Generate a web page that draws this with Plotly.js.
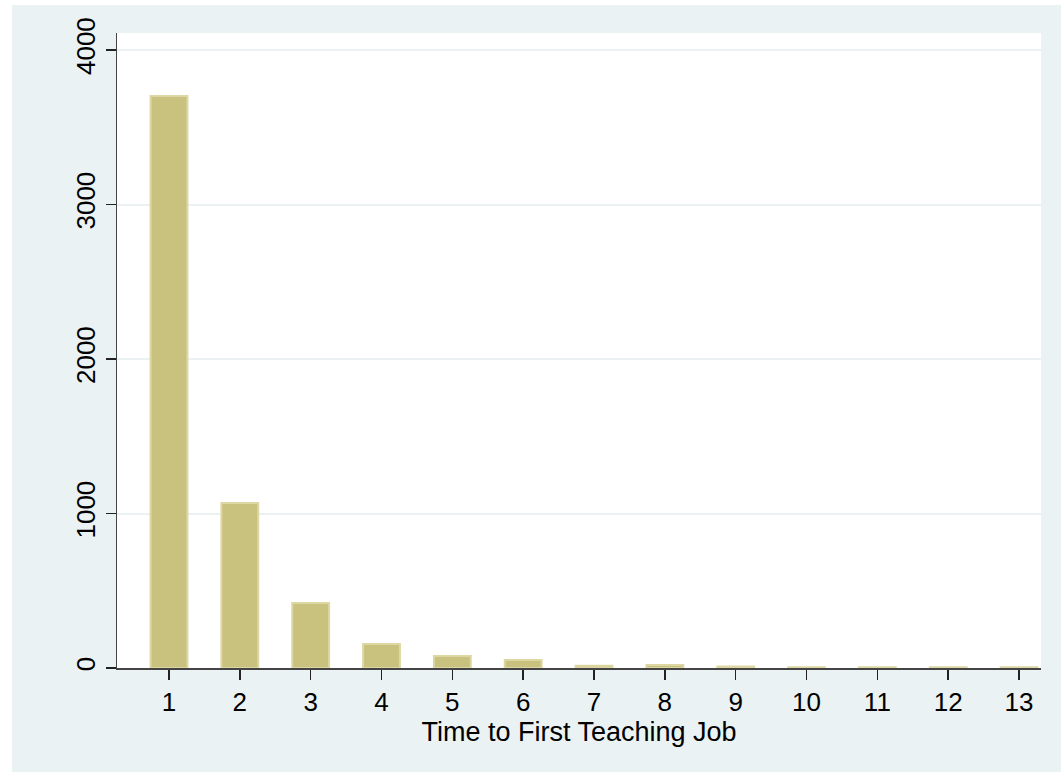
<!DOCTYPE html>
<html><head><meta charset="utf-8">
<script src="https://cdn.plot.ly/plotly-3.0.1.min.js"></script>
<style>html,body{margin:0;padding:0;background:#fff;}#chart{width:1061px;height:772px;}</style>
</head><body><div id="chart"></div>
<script>
const categories = [1,2,3,4,5,6,7,8,9,10,11,12,13];
const counts = [3702,1068,421,155,78,52,14,19,10,5,5,5,5];
const yTicks = [0,1000,2000,3000,4000];
const xTitle = "Time to First Teaching Job";

const trace = {
  type: 'bar', x: categories, y: counts, width: 0.52,
  marker: {color: '#C9C17E', line: {color: '#DDD7A3', width: 2}},
  hoverinfo: 'x+y'
};
const W = 1061, H = 772, ml = 117, mr = 20, mt = 33, mb = 104;
const pw = W - ml - mr, ph = H - mt - mb;
const layout = {
  width: W, height: H,
  margin: {l: ml, r: mr, t: mt, b: mb, pad: 0},
  paper_bgcolor: '#EAF2F3', plot_bgcolor: '#FFFFFF',
  font: {family: 'Liberation Sans, Arial, sans-serif', size: 26, color: '#000'},
  showlegend: false,
  xaxis: {
    range: [0.266, 13.31], tickvals: categories, ticktext: categories.map(String),
    ticks: 'outside', ticklen: 10, tickwidth: 1.5, tickcolor: '#222',
    showline: true, linecolor: '#444', linewidth: 1.5, showgrid: false, zeroline: false,
    tickfont: {size: 26}, title: {text: xTitle, font: {size: 27}, standoff: 0}
  },
  yaxis: {
    range: [0, 4110], tickvals: yTicks, ticktext: yTicks.map(String), tickangle: -90,
    ticks: 'outside', ticklen: 10, tickwidth: 1.5, tickcolor: '#222',
    showline: true, linecolor: '#444', linewidth: 1.5,
    showgrid: true, gridcolor: '#EAF2F3', gridwidth: 2, zeroline: false,
    tickfont: {size: 26}
  },
  shapes: [
    {type: 'rect', xref: 'paper', yref: 'paper', x0: -ml/pw, x1: (12-ml)/pw, y0: -mb/ph, y1: 1 + mt/ph, fillcolor: '#FFFFFF', line: {width: 0}, layer: 'below'},
    {type: 'rect', xref: 'paper', yref: 'paper', x0: -ml/pw, x1: 1 + mr/pw, y0: 1 + (mt-5)/ph, y1: 1 + mt/ph, fillcolor: '#FFFFFF', line: {width: 0}, layer: 'below'}
  ]
};
Plotly.newPlot('chart', [trace], layout, {displayModeBar: false, staticPlot: true});
</script></body></html>
